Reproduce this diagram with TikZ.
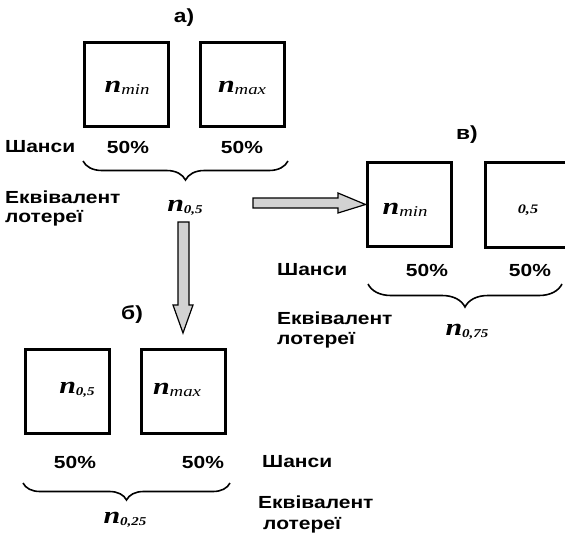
\documentclass[tikz,border=0pt]{standalone}
\usepackage{fontspec}
\newfontfamily\labfont[FakeStretch=1.2]{Liberation Sans}
\newfontfamily\serfont[FakeStretch=1.25]{Liberation Serif}
\usetikzlibrary{decorations.pathreplacing}
\newcommand\nmm[1]{{\serfont\bfseries\itshape\fontsize{24}{24}\selectfont n}\raisebox{-2pt}{\serfont\itshape\fontsize{15}{15}\selectfont #1}}
\newcommand\nnum[1]{{\serfont\bfseries\itshape\fontsize{24}{24}\selectfont n}\raisebox{-2pt}{\serfont\bfseries\itshape\fontsize{12}{12}\selectfont #1}}
\tikzset{
  box/.style={draw, line width=3pt, minimum size=84pt, inner sep=0pt},
  openbox/.style={minimum size=84pt, inner sep=0pt},
  lab/.style={font=\labfont\bfseries\fontsize{17.5}{17.5}\selectfont, inner sep=0pt},
  ttl/.style={font=\labfont\bfseries\fontsize{19}{19}\selectfont, inner sep=0pt},
  mth/.style={inner sep=0pt},
  brc/.style={decorate, decoration={brace, mirror, amplitude=#1}, line width=1.6pt},
  blk/.style={draw, line width=1.2pt, fill=gray!35, line join=miter}
}
\begin{document}
\begin{tikzpicture}[x=1pt,y=-1pt]
\useasboundingbox (0,0) rectangle (565,538);
% panel a
\node[ttl] (ta) at (184,18) {а)};
\node[box] (a1) at (126.5,84.5) {};
\node[box] (a2) at (242,84.5) {};
\node[mth] (a1t) at (127,88) {\nmm{min}};
\node[mth] (a2t) at (242,88) {\nmm{max}};
\node[lab, anchor=west] (ash) at (5,147) {Шанси};
\node[lab] (ap1) at (128,147) {50\%};
\node[lab] (ap2) at (242,147) {50\%};
\coordinate (ab1) at (83,161);
\coordinate (ab2) at (288,161);
\draw[brc=19pt] (ab1) -- (ab2);
\node[lab, anchor=west] (ae1) at (5,197) {Еквівалент};
\node[lab, anchor=west] (ae2) at (5,218) {лотереї};
\node[mth] (an) at (185,208) {\nnum{0,5}};
% panel v
\node[ttl] (tv) at (467,135) {в)};
\node[box] (v1) at (409,204.5) {};
\node[openbox] (v2) at (528,205) {};
\draw[line width=3pt] ([xshift=10pt]v2.north east) -- (v2.north west) -- (v2.south west) -- ([xshift=10pt]v2.south east);
\node[mth] (v1t) at (405,210) {\nmm{min}};
\node[mth] (v2t) at (528,210) {{\serfont\bfseries\itshape\fontsize{13}{13}\selectfont 0,5}};
\node[lab, anchor=west] (vsh) at (277,270) {Шанси};
\node[lab] (vp1) at (427,270) {50\%};
\node[lab] (vp2) at (530,270) {50\%};
\coordinate (vb1) at (368,284);
\coordinate (vb2) at (562,284);
\draw[brc=23pt] (vb1) -- (vb2);
\node[lab, anchor=west] (ve1) at (277,318) {Еквівалент};
\node[lab, anchor=west] (ve2) at (277,340) {лотереї};
\node[mth] (vn) at (467,332) {\nnum{0,75}};
% panel b
\node[ttl] (tb) at (132,315) {б)};
\node[box] (b1) at (67.5,391) {};
\node[box] (b2) at (183,391) {};
\node[mth] (b1t) at (77,390) {\nnum{0,5}};
\node[mth] (b2t) at (177,390) {\nmm{max}};
\node[lab] (bp1) at (75,462) {50\%};
\node[lab] (bp2) at (203,462) {50\%};
\node[lab, anchor=west] (bsh) at (262,462) {Шанси};
\coordinate (bb1) at (23,483);
\coordinate (bb2) at (230,483);
\draw[brc=17pt] (bb1) -- (bb2);
\node[mth] (bn) at (125,520) {\nnum{0,25}};
\node[lab, anchor=west] (be1) at (258,502) {Еквівалент};
\node[lab, anchor=west] (be2) at (263,525) {лотереї};
% arrows
\draw[blk] (253,198) -- (338,198) -- (338,193) -- (v1.west) -- (338,213) -- (338,208) -- (253,208) -- cycle;
\draw[blk] (178,222) -- (189,222) -- (189,305) -- (193,305) -- (183,333) -- (173,305) -- (178,305) -- cycle;
\end{tikzpicture}
\end{document}
